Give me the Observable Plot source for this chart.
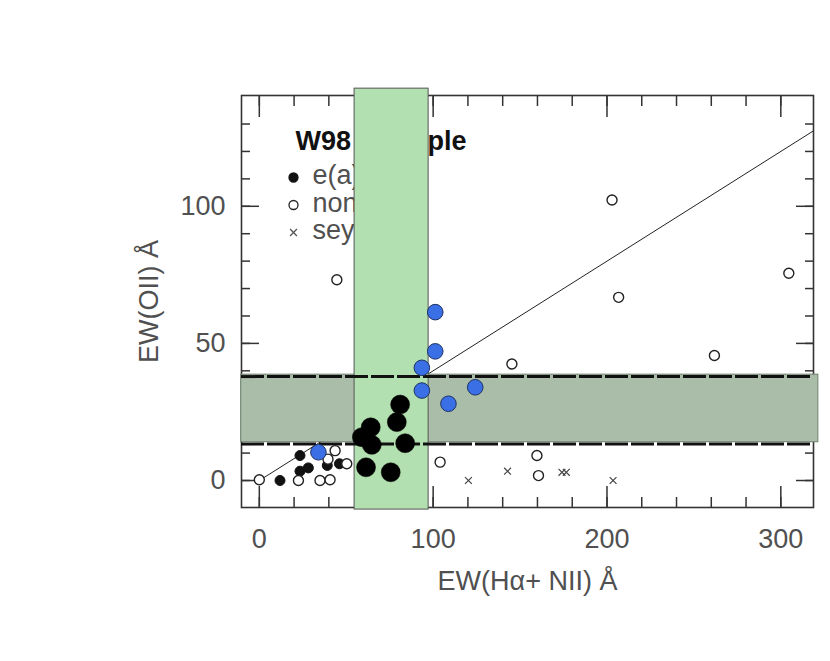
<!DOCTYPE html>
<html>
<head>
<meta charset="utf-8">
<script src="https://cdn.jsdelivr.net/npm/d3@7"></script>
<script src="https://cdn.jsdelivr.net/npm/@observablehq/plot@0.6"></script>
<style>
  html, body { margin: 0; padding: 0; background: #fff; }
  g[aria-label="ylabel"] text { letter-spacing: 2px; }
  g[aria-label="xlabel"] text { letter-spacing: 1px; }
  g[aria-label="legend-text"] text { letter-spacing: 1px; }
</style>
</head>
<body>
<div id="chart"></div>
<script>
// ---- data ----
const xDomain = [-10.25, 318.8];
const yDomain = [-9.84, 140.4];

const xMinorTicks = [0, 20, 40, 60, 80, 100, 120, 140, 160, 180, 200, 220, 240, 260, 280, 300];
const xMajorTicks = [0, 100, 200, 300];
const yMinorTicks = [0, 10, 20, 30, 40, 50, 60, 70, 80, 90, 100, 110, 120, 130];
const yMajorTicks = [0, 50, 100];

// fitted line EW(OII) = 0.4 EW(Ha+NII)
const fitX = [0, 320];
const fitY = [0, 128];

// shaded bands
const hBandX = [-10.4, 321.6];
const hBandY = [13.96, 38.6];
const dashY = [13.3, 37.9];
const vBandX = [54.8, 97.4];
const vBandY = [-10.6, 142.9];

// e(a) sample (small filled)
const eaSmallX = [11.9, 23.4, 23.4, 28.2, 39.1, 46.1];
const eaSmallY = [0, 9.1, 3.4, 4.6, 5.5, 6.1];
// non-e(a) (open circles)
const nonX = [0, 22.5, 34.9, 40.7, 43.6, 39.5, 50.3, 44.6, 104.0, 145.3, 159.7, 160.6, 202.9, 206.7, 261.8, 304.6];
const nonY = [0.3, 0, 0, 0.3, 10.9, 7.8, 6.1, 73.2, 6.7, 42.5, 9.1, 1.8, 102.3, 66.8, 45.6, 75.6];
// seyferts (crosses)
const seyX = [120.3, 142.8, 174.1, 176.6, 203.5];
const seyY = [0, 3.4, 3.0, 3.0, 0];
// large filled black points
const bigX = [81.0, 79.1, 64.1, 59.0, 64.7, 83.9, 61.4, 75.6];
const bigY = [27.7, 21.3, 19.4, 15.8, 13.0, 13.6, 4.8, 3.0];
// blue points
const blueX = [101.2, 101.2, 93.5, 93.5, 108.8, 124.2, 34.0];
const blueY = [61.4, 47.1, 41.1, 32.8, 28.0, 34.0, 10.3];

const legendTitle = "W98\u00a0\u00a0\u00a0sample";
const legendLabels = ["e(a)", "non-e(a)", "seyfert"];
const xLabel = "EW(H\u03b1+ NII) \u00c5";
const yLabel = "EW(OII) \u00c5";

// ---- helpers ----
const pts = (xs, ys) => xs.map((x, i) => ({x, y: ys[i]}));
const FONT = "'Liberation Sans', Arial, sans-serif";
const tickColor = "#333";
const labelColor = "#505050";

const legendMarks = [];
const legendSym = [
  {symbol: "circle", fill: "#111", stroke: "#111", r: 4.5},
  {symbol: "circle", fill: "white", stroke: "#222", r: 4.5},
  {symbol: "times", fill: "none", stroke: "#555", r: 3.2}
];
legendLabels.forEach((lab, i) => {
  const s = legendSym[i];
  legendMarks.push(Plot.dot([lab], {frameAnchor: "top-left", dx: 52, dy: 82 + i * 27.5,
    symbol: s.symbol, r: s.r, fill: s.fill, stroke: s.stroke, strokeWidth: 1.3}));
  legendMarks.push(Plot.text([lab], {frameAnchor: "top-left", dx: 71, dy: 80 + i * 27.5,
    text: d => d, textAnchor: "start", lineAnchor: "middle", fontSize: 27, fill: labelColor, ariaLabel: "legend-text"}));
});

const chart = Plot.plot({
  width: 830,
  height: 661,
  marginLeft: 241,
  marginRight: 17,
  marginTop: 95,
  marginBottom: 154,
  style: {background: "white", fontFamily: FONT, overflow: "visible"},
  x: {domain: xDomain, label: null},
  y: {domain: yDomain, label: null},
  marks: [
    // fit line (under bands)
    Plot.line(pts(fitX, fitY), {x: "x", y: "y", stroke: "#222", strokeWidth: 1, clip: true}),
    // frame
    Plot.frame({stroke: "#333", strokeWidth: 1.6}),
    // inward ticks
    Plot.axisX({anchor: "bottom", ticks: xMinorTicks, tickSize: -10, fill: "none", stroke: tickColor, strokeWidth: 1.5, label: null}),
    Plot.axisX({anchor: "top", ticks: xMinorTicks, tickSize: -10, fill: "none", stroke: tickColor, strokeWidth: 1.5, label: null}),
    Plot.axisX({anchor: "bottom", ticks: xMajorTicks, tickSize: -21, fill: "none", stroke: tickColor, strokeWidth: 1.5, label: null}),
    Plot.axisX({anchor: "top", ticks: xMajorTicks, tickSize: -21, fill: "none", stroke: tickColor, strokeWidth: 1.5, label: null}),
    Plot.axisY({anchor: "left", ticks: yMinorTicks, tickSize: -9, fill: "none", stroke: tickColor, strokeWidth: 1.5, label: null}),
    Plot.axisY({anchor: "right", ticks: yMinorTicks, tickSize: -9, fill: "none", stroke: tickColor, strokeWidth: 1.5, label: null}),
    Plot.axisY({anchor: "left", ticks: yMajorTicks, tickSize: -18, fill: "none", stroke: tickColor, strokeWidth: 1.5, label: null}),
    Plot.axisY({anchor: "right", ticks: yMajorTicks, tickSize: -18, fill: "none", stroke: tickColor, strokeWidth: 1.5, label: null}),
    // tick labels
    Plot.axisX({anchor: "bottom", ticks: xMajorTicks, tickSize: 0, tickPadding: 21, fontSize: 27, fill: labelColor, label: null}),
    Plot.axisY({anchor: "left", ticks: yMajorTicks, tickSize: 0, tickPadding: 16, fontSize: 27, fill: labelColor, label: null}),
    // axis titles
    Plot.text([xLabel], {frameAnchor: "bottom", dy: 74, text: d => d, textAnchor: "middle", lineAnchor: "middle",
      fontSize: 27, fill: labelColor, ariaLabel: "xlabel"}),
    Plot.text([yLabel], {frameAnchor: "left", dx: -92, rotate: -90, text: d => d, textAnchor: "middle", lineAnchor: "middle",
      fontSize: 27, fill: labelColor, ariaLabel: "ylabel"}),
    // legend
    Plot.text([legendTitle], {frameAnchor: "top-left", dx: 54, dy: 46, text: d => d, textAnchor: "start", lineAnchor: "middle",
      fontSize: 27, fontWeight: "bold", fill: "#111"}),
    ...legendMarks,
    // horizontal grey band
    Plot.rect([{x1: hBandX[0], x2: hBandX[1], y1: hBandY[0], y2: hBandY[1]}],
      {x1: "x1", x2: "x2", y1: "y1", y2: "y2", fill: "#a9bda9", stroke: "#6f7f6f", strokeWidth: 1}),
    // vertical green band
    Plot.rect([{x1: vBandX[0], x2: vBandX[1], y1: vBandY[0], y2: vBandY[1]}],
      {x1: "x1", x2: "x2", y1: "y1", y2: "y2", fill: "#b3e0b0", stroke: "#555", strokeWidth: 1}),
    // dashed limits
    Plot.ruleY(dashY, {x1: xDomain[0], x2: xDomain[1], stroke: "#111", strokeWidth: 3, strokeDasharray: "23,3"}),
    // points
    Plot.dot(pts(eaSmallX, eaSmallY), {x: "x", y: "y", r: 5, fill: "#111", stroke: "#111", strokeWidth: 1}),
    Plot.dot(pts(nonX, nonY), {x: "x", y: "y", r: 5, fill: "white", stroke: "#222", strokeWidth: 1.4}),
    Plot.dot(pts(seyX, seyY), {x: "x", y: "y", symbol: "times", r: 3.2, stroke: "#444", strokeWidth: 1.2}),
    Plot.dot(pts(bigX, bigY), {x: "x", y: "y", r: 9.5, fill: "#000", stroke: "#000", strokeWidth: 0.5}),
    Plot.dot(pts(blueX, blueY), {x: "x", y: "y", r: 7.8, fill: "#3a6fe6", stroke: "#1e3260", strokeWidth: 1})
  ]
});
document.getElementById("chart").appendChild(chart);
</script>
</body>
</html>
